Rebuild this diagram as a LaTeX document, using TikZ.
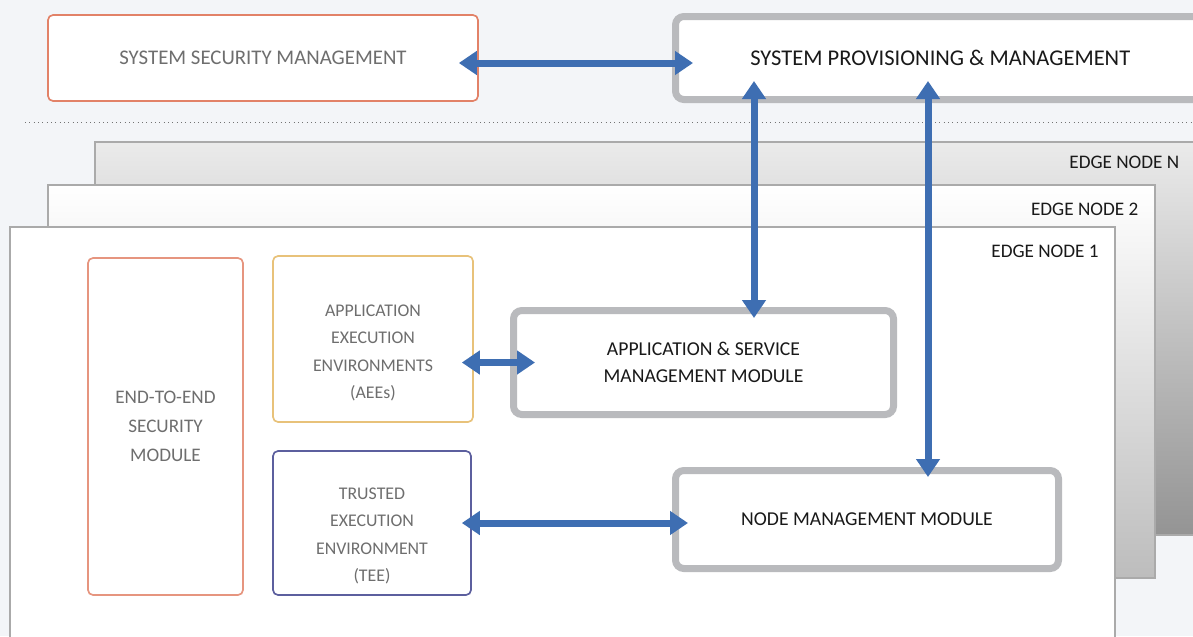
\documentclass[tikz,border=0pt]{standalone}
\usepackage{fontspec}
\setmainfont{Carlito}
\usetikzlibrary{arrows.meta}
\usetikzlibrary{calc}
\usetikzlibrary{positioning}
\definecolor{bgcol}{RGB}{243,245,248}
\definecolor{flowblue}{RGB}{62,110,178}
\definecolor{modgray}{RGB}{185,186,189}
\definecolor{txtgray}{RGB}{110,110,110}
\definecolor{secorange}{RGB}{226,130,104}
\definecolor{aeegold}{RGB}{232,194,122}
\definecolor{teeblue}{RGB}{92,95,158}
\definecolor{framegray}{RGB}{170,170,170}
\tikzset{
  every picture/.style={font={\normalsize}}}

\begin{document}
\begin{tikzpicture}[x=0.6pt, y=-0.6pt,
    thinbox/.style={draw, rounded corners=3pt, line width=1pt, fill=white,
      text=txtgray, align=center, font={\fontsize{11.5}{17.4}\selectfont}},
    module/.style={draw=modgray, rounded corners=5pt, line width=4.2pt, fill=white,
      text=black!90, align=center, font={\fontsize{11.8}{16.3}\selectfont}},
    edgebox/.style={draw=framegray, line width=1pt},
    edgelbl/.style={anchor=east, text=black!90, font={\fontsize{11.5}{14}\selectfont}},
    biarrow/.style={draw=flowblue, line width=4.2pt,
      {Triangle[length=10.8pt, width=13.8pt]}-{Triangle[length=10.8pt, width=13.8pt]}}]

    \useasboundingbox[fill=bgcol] (0,0) rectangle (1193,636);

    % system level
    \node[thinbox, draw=secorange, minimum width=258pt, minimum height=51.6pt,
      font={\fontsize{12.5}{15}\selectfont}] (ssm) at (263,58) {SYSTEM SECURITY MANAGEMENT};
    \node[module, minimum width=317.7pt, minimum height=49.8pt,
      font={\fontsize{13.5}{16}\selectfont}] (spm) at (940.25,58) {SYSTEM PROVISIONING \& MANAGEMENT};

    \draw[black!55, line width=0.6pt, dotted] (25,122) -- (1193,122);

    % stacked edge nodes
    \node[edgebox, top color=black!8, bottom color=black!42, minimum width=660.6pt,
      minimum height=235.8pt] (edgeN) at (645.5,338.5) {};
    \node[edgelbl] (lblN) at ([xshift=-7pt, yshift=-13pt]edgeN.north east) {EDGE NODE N};
    \node[edgebox, top color=white, bottom color=black!26, minimum width=664.2pt,
      minimum height=235.8pt] (edge2) at (601.5,381.5) {};
    \node[edgelbl] (lbl2) at ([xshift=-7pt, yshift=-15pt]edge2.north east) {EDGE NODE 2};
    \node[edgebox, fill=white, line width=1.4pt, minimum width=663pt,
      minimum height=259.8pt] (edge1) at (562.5,443.5) {};
    \node[edgelbl] (lbl1) at ([xshift=-7pt, yshift=-15.6pt]edge1.north east) {EDGE NODE 1};

    % modules inside edge node 1
    \begin{scope}
      \node[thinbox, draw=secorange!85, minimum width=93pt, minimum height=202.2pt] (e2e)
        at (165.5,426.5) {END-TO-END\\SECURITY\\MODULE};
      \node[thinbox, draw=aeegold, minimum width=120pt, minimum height=99.6pt,
        label={[align=center, text=txtgray, yshift=-8.4pt,
          font={\fontsize{10.7}{16.4}\selectfont}]center:APPLICATION\\EXECUTION\\ENVIRONMENTS\\(AEEs)}]
        (aee) at (373,339) {};
      \node[thinbox, draw=teeblue, minimum width=118.8pt, minimum height=86.4pt,
        label={[align=center, text=txtgray, yshift=-7.8pt,
          font={\fontsize{10.7}{16.4}\selectfont}]center:TRUSTED\\EXECUTION\\ENVIRONMENT\\(TEE)}]
        (tee) at (372,523) {};
      \node[module, minimum width=228pt, minimum height=62.4pt] (asm)
        at (703.5,362.5) {APPLICATION \& SERVICE\\MANAGEMENT MODULE};
      \node[module, minimum width=229.8pt, minimum height=58.8pt] (nmm)
        at (867,519.5) {NODE MANAGEMENT MODULE};
    \end{scope}

    \coordinate (asmTop) at ($(asm.north)+(50.5,0)$);
    \coordinate (nmmTop) at ($(nmm.north)+(61,0)$);

    \draw[biarrow, shorten <=-12pt, shorten >=-12.6pt] ([yshift=-3pt]ssm.east) -- ([yshift=-3pt]ssm.east -| spm.west);
    \draw[biarrow, shorten <=-13.2pt, shorten >=-6.6pt] (asmTop |- spm.south) -- (asmTop);
    \draw[biarrow, shorten <=-13.2pt, shorten >=-6pt] (nmmTop |- spm.south) -- (nmmTop);
    \draw[biarrow, shorten <=-7.2pt, shorten >=-15pt] (aee.east |- asm.west) -- (asm.west);
    \draw[biarrow, shorten <=-6pt, shorten >=-9.6pt] (tee.east) -- (tee.east -| nmm.west);
  \end{tikzpicture}
\end{document}
